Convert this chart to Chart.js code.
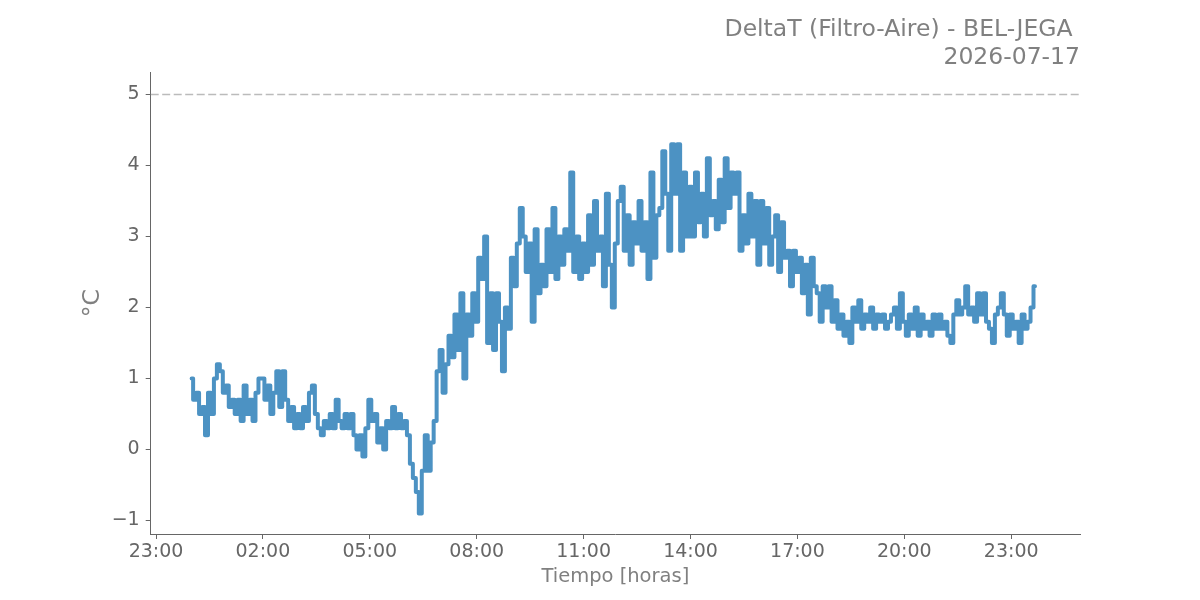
<!DOCTYPE html>
<html>
<head>
<meta charset="utf-8">
<script src="https://cdn.jsdelivr.net/npm/chart.js@4.4.1/dist/chart.umd.min.js"></script>
<style>
  html, body { margin: 0; padding: 0; background: #fff; }
  #chart { display: block; }
</style>
</head>
<body>
<canvas id="chart" width="1200" height="600"></canvas>
<script>
var chartTitle = ['DeltaT (Filtro-Aire) - BEL-JEGA ', '2026-07-17'];

// eje x en horas contadas desde 2026-07-16 23:00
var tickHours = [0, 3, 6, 9, 12, 15, 18, 21, 24];
var tickLabels = ['23:00', '02:00', '05:00', '08:00', '11:00', '14:00', '17:00', '20:00', '23:00'];
var yTicks = [-1, 0, 1, 2, 3, 4, 5];
var limitValue = 5;

var firstSample = 1;   // 00:00 del 17
var stepMinutes = 5;

// DeltaT cada 5 min, una fila por hora (00h .. 23h)
var deltaT = [
  1.0, 0.7, 0.8, 0.5, 0.6, 0.2, 0.8, 0.5, 1.0, 1.2, 1.1, 0.8,
  0.9, 0.6, 0.7, 0.5, 0.7, 0.4, 0.9, 0.5, 0.7, 0.4, 0.8, 1.0,
  1.0, 0.7, 0.9, 0.5, 0.8, 1.1, 0.6, 1.1, 0.7, 0.4, 0.6, 0.3,
  0.5, 0.3, 0.6, 0.4, 0.8, 0.9, 0.5, 0.3, 0.2, 0.4, 0.3, 0.5,
  0.3, 0.7, 0.4, 0.3, 0.5, 0.3, 0.5, 0.2, 0.0, 0.2, -0.1, 0.3,
  0.7, 0.4, 0.5, 0.1, 0.3, 0.0, 0.4, 0.3, 0.6, 0.3, 0.5, 0.3,
  0.4, 0.2, -0.2, -0.4, -0.6, -0.9, -0.3, 0.2, -0.3, 0.1, 0.4, 1.1,
  1.4, 0.8, 1.2, 1.6, 1.3, 1.9, 1.4, 2.2, 1.0, 1.9, 1.6, 2.2,
  1.8, 2.7, 2.4, 3.0, 1.5, 2.2, 1.4, 2.2, 1.8, 1.1, 2.0, 1.7,
  2.7, 2.3, 2.9, 3.4, 3.0, 2.5, 2.9, 1.8, 3.1, 2.2, 2.6, 2.3,
  3.1, 2.5, 3.4, 2.4, 3.0, 2.6, 3.1, 2.8, 3.9, 2.5, 3.0, 2.4,
  2.9, 2.5, 3.3, 2.6, 3.5, 2.8, 3.0, 2.3, 3.6, 2.6, 2.0, 2.9,
  3.5, 3.7, 2.8, 3.3, 2.6, 3.2, 2.9, 3.5, 2.8, 3.2, 2.4, 3.9,
  2.7, 3.3, 3.4, 4.2, 3.6, 2.8, 4.3, 3.6, 4.3, 2.8, 3.9, 3.0,
  3.7, 3.0, 3.9, 3.2, 3.6, 3.0, 4.1, 3.3, 3.5, 3.1, 3.8, 3.2,
  4.1, 3.4, 3.9, 3.6, 3.9, 2.8, 3.3, 2.9, 3.6, 3.0, 3.5, 2.6,
  3.5, 2.9, 3.4, 2.6, 3.0, 3.3, 2.5, 3.2, 2.7, 2.8, 2.3, 2.8,
  2.5, 2.7, 2.2, 2.6, 1.9, 2.7, 2.3, 2.2, 1.8, 2.3, 2.0, 2.3,
  1.8, 2.1, 1.7, 1.9, 1.6, 1.8, 1.5, 2.0, 1.8, 2.1, 1.7, 1.9,
  1.8, 2.0, 1.7, 1.9, 1.8, 1.9, 1.7, 1.8, 1.9, 2.0, 1.7, 2.2,
  1.8, 1.6, 1.9, 1.7, 2.0, 1.6, 1.9, 1.7, 1.8, 1.6, 1.9, 1.7,
  1.9, 1.7, 1.8, 1.6, 1.5, 1.9, 2.1, 1.9, 2.0, 2.3, 1.9, 2.0,
  1.8, 2.2, 1.9, 2.2, 1.8, 1.7, 1.5, 1.9, 2.0, 2.2, 1.9, 1.6,
  1.9, 1.7, 1.8, 1.5, 1.9, 1.7, 1.8, 2.0, 2.3
];

var xMin = -0.149, xMax = 25.93;

var points = deltaT.map(function(v, i) {
  return { x: firstSample + i * stepMinutes / 60, y: v };
});

Chart.defaults.font.family = "'DejaVu Sans', sans-serif";

var ctx = document.getElementById('chart').getContext('2d');
var chart = new Chart(ctx, {
  type: 'line',
  data: {
    datasets: [{
      data: points,
      borderColor: '#4c92c3',
      borderWidth: 4,
      borderJoinStyle: 'round',
      borderCapStyle: 'round',
      pointRadius: 0,
      stepped: 'middle',
      fill: false
    }, {
      data: [{ x: xMin, y: limitValue }, { x: xMax, y: limitValue }],
      borderColor: '#bbbbbb',
      borderWidth: 1.5,
      borderDash: [8, 3.5],
      pointRadius: 0,
      fill: false
    }]
  },
  options: {
    responsive: false,
    animation: false,
    devicePixelRatio: 1,
    layout: { padding: { left: 0, right: 120, top: 0, bottom: 0 } },
    plugins: {
      legend: { display: false },
      tooltip: { enabled: false },
      title: {
        display: true,
        text: chartTitle,
        align: 'end',
        color: '#808080',
        font: { size: 23.5, weight: 'normal', lineHeight: 1.2 },
        padding: { top: 16, bottom: 0 }
      }
    },
    scales: {
      x: {
        type: 'linear',
        min: xMin,
        max: xMax,
        afterFit: function(scale) { scale.height = 66; },
        afterBuildTicks: function(scale) {
          scale.ticks = tickHours.map(function(h) { return { value: h }; });
        },
        ticks: {
          autoSkip: false,
          maxRotation: 0,
          padding: 2,
          color: '#666666',
          font: { size: 19 },
          callback: function(value, index) { return tickLabels[index]; }
        },
        grid: { display: true, drawOnChartArea: false, drawTicks: true, tickLength: 5, color: '#666666' },
        border: { display: true, color: '#666666', width: 1 },
        title: {
          display: true,
          text: 'Tiempo [horas]',
          color: '#808080',
          font: { size: 19.5 },
          padding: { top: 0, bottom: 11 }
        }
      },
      y: {
        min: -1.19,
        max: 5.31,
        afterFit: function(scale) { scale.width = 150.7; },
        afterBuildTicks: function(scale) {
          scale.ticks = yTicks.map(function(v) { return { value: v }; });
        },
        ticks: {
          padding: 6,
          color: '#666666',
          font: { size: 19 },
          callback: function(value) { return value < 0 ? '\u2212' + Math.abs(value) : String(value); }
        },
        grid: { display: true, drawOnChartArea: false, drawTicks: true, tickLength: 5, color: '#666666' },
        border: { display: true, color: '#666666', width: 1 },
        title: {
          display: true,
          text: '°C',
          color: '#808080',
          font: { size: 23.5 },
          padding: { top: 79, bottom: 0 }
        }
      }
    }
  }
});
</script>
</body>
</html>
